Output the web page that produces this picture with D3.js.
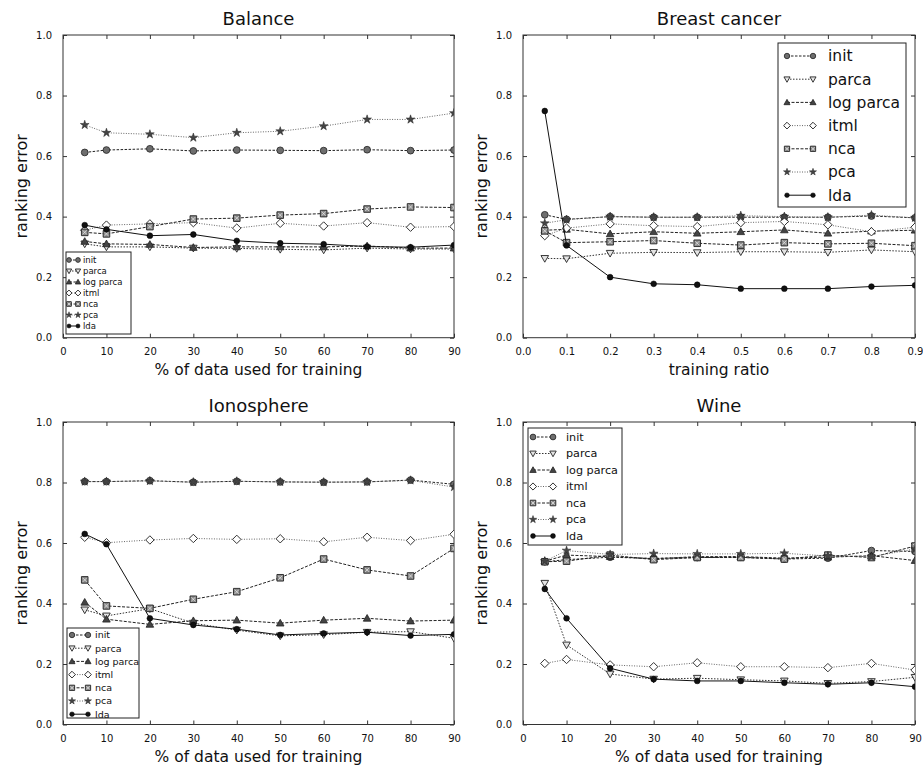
<!DOCTYPE html>
<html><head><meta charset="utf-8">
<script src="https://cdn.jsdelivr.net/npm/d3@7"></script>
<style>body{margin:0;background:#fff} text{font-family:"DejaVu Sans",sans-serif;fill:#111}</style>
</head><body><svg id="c" width="923" height="768"></svg>
<script>
// ---------------- data ----------------
const methods = ["init", "parca", "log parca", "itml", "nca", "pca", "lda"];
const xPercent = [5, 10, 20, 30, 40, 50, 60, 70, 80, 90];
const xRatio = [0.05, 0.1, 0.2, 0.3, 0.4, 0.5, 0.6, 0.7, 0.8, 0.9];
const xTicksPercent = [0, 10, 20, 30, 40, 50, 60, 70, 80, 90];
const xTicksRatio = [0, 0.1, 0.2, 0.3, 0.4, 0.5, 0.6, 0.7, 0.8, 0.9];
const yTicks = [0, 0.2, 0.4, 0.6, 0.8, 1.0];

// rows follow `methods`
const balanceErrors = [
  [0.612, 0.620, 0.624, 0.617, 0.620, 0.619, 0.618, 0.621, 0.618, 0.620],
  [0.310, 0.300, 0.300, 0.296, 0.295, 0.292, 0.290, 0.296, 0.293, 0.293],
  [0.318, 0.310, 0.308, 0.298, 0.300, 0.300, 0.300, 0.303, 0.296, 0.296],
  [0.355, 0.372, 0.376, 0.380, 0.362, 0.378, 0.369, 0.380, 0.365, 0.367],
  [0.348, 0.343, 0.367, 0.392, 0.395, 0.405, 0.410, 0.425, 0.432, 0.430],
  [0.703, 0.677, 0.672, 0.661, 0.677, 0.682, 0.699, 0.721, 0.721, 0.742],
  [0.372, 0.358, 0.337, 0.341, 0.320, 0.312, 0.309, 0.301, 0.299, 0.306]
];
const breastErrors = [
  [0.406, 0.391, 0.400, 0.398, 0.398, 0.398, 0.398, 0.398, 0.402, 0.396],
  [0.262, 0.261, 0.279, 0.282, 0.281, 0.284, 0.284, 0.282, 0.290, 0.284],
  [0.355, 0.358, 0.343, 0.350, 0.345, 0.350, 0.356, 0.345, 0.352, 0.355],
  [0.337, 0.362, 0.376, 0.370, 0.367, 0.380, 0.384, 0.373, 0.350, 0.365],
  [0.353, 0.314, 0.317, 0.321, 0.312, 0.306, 0.314, 0.310, 0.312, 0.304],
  [0.378, 0.390, 0.400, 0.398, 0.398, 0.403, 0.400, 0.398, 0.405, 0.396],
  [0.749, 0.305, 0.200, 0.178, 0.175, 0.162, 0.162, 0.162, 0.169, 0.173]
];
const ionosphereErrors = [
  [0.803, 0.803, 0.806, 0.801, 0.804, 0.802, 0.801, 0.802, 0.808, 0.794],
  [0.379, 0.359, 0.383, 0.335, 0.312, 0.293, 0.297, 0.305, 0.307, 0.285],
  [0.404, 0.348, 0.331, 0.343, 0.345, 0.335, 0.345, 0.351, 0.342, 0.345],
  [0.619, 0.601, 0.610, 0.615, 0.612, 0.614, 0.604, 0.619, 0.608, 0.629],
  [0.478, 0.392, 0.384, 0.414, 0.439, 0.485, 0.547, 0.511, 0.491, 0.582],
  [0.803, 0.803, 0.805, 0.801, 0.804, 0.802, 0.801, 0.802, 0.807, 0.785],
  [0.630, 0.596, 0.351, 0.329, 0.315, 0.296, 0.301, 0.305, 0.294, 0.298]
];
const wineErrors = [
  [0.538, 0.545, 0.553, 0.549, 0.552, 0.553, 0.547, 0.550, 0.575, 0.572],
  [0.467, 0.263, 0.167, 0.150, 0.153, 0.148, 0.144, 0.136, 0.142, 0.156],
  [0.540, 0.560, 0.555, 0.548, 0.555, 0.555, 0.550, 0.553, 0.558, 0.542],
  [0.202, 0.215, 0.197, 0.191, 0.204, 0.191, 0.191, 0.188, 0.202, 0.180],
  [0.538, 0.540, 0.560, 0.545, 0.552, 0.552, 0.547, 0.560, 0.552, 0.590],
  [0.540, 0.575, 0.562, 0.565, 0.564, 0.564, 0.566, 0.557, 0.555, 0.580],
  [0.448, 0.351, 0.186, 0.150, 0.144, 0.144, 0.138, 0.133, 0.138, 0.125]
];

// ---------------- styles ----------------
const dashes = {"init": "2.5,1.5", "parca": "1.5,1.5", "log parca": "3,1.5", "itml": "1,1.5", "nca": "3,1.5", "pca": "1,1.5", "lda": null};
const lineColors = {"init": "#222", "parca": "#333", "log parca": "#222", "itml": "#666", "nca": "#222", "pca": "#666", "lda": "#111"};

const svg = d3.select("#c");

function drawMarker(g, m, x, y, k) {
  const t = `translate(${x},${y})`;
  if (m === "init") {
    g.append("circle").attr("cx", x).attr("cy", y).attr("r", 3.4 * k).attr("fill", "#6e6e6e").attr("stroke", "#222").attr("stroke-width", 0.8);
  } else if (m === "lda") {
    g.append("circle").attr("cx", x).attr("cy", y).attr("r", 2.9 * k).attr("fill", "#111").attr("stroke", "#000").attr("stroke-width", 0.5);
  } else if (m === "parca") {
    const s = 3.8 * k;
    g.append("path").attr("transform", t).attr("d", `M${-s},${-s * 0.75}L${s},${-s * 0.75}L0,${s}Z`).attr("fill", "#e4e4e4").attr("stroke", "#222").attr("stroke-width", 0.9);
  } else if (m === "log parca") {
    const s = 3.8 * k;
    g.append("path").attr("transform", t).attr("d", `M${-s},${s * 0.75}L${s},${s * 0.75}L0,${-s}Z`).attr("fill", "#444").attr("stroke", "#222").attr("stroke-width", 0.8);
  } else if (m === "itml") {
    const s = 4.2 * k;
    g.append("path").attr("transform", t).attr("d", `M0,${-s}L${s},0L0,${s}L${-s},0Z`).attr("fill", "#fff").attr("stroke", "#333").attr("stroke-width", 1);
  } else if (m === "nca") {
    const s = 3.3 * k;
    g.append("path").attr("transform", t).attr("d", `M${-s},${-s}H${s}V${s}H${-s}Z`).attr("fill", "#8c8c8c").attr("stroke", "#222").attr("stroke-width", 0.9);
    g.append("path").attr("transform", t).attr("d", `M${-s * 0.6},${-s * 0.6}L${s * 0.6},${s * 0.6}M${s * 0.6},${-s * 0.6}L${-s * 0.6},${s * 0.6}`).attr("stroke", "#eee").attr("stroke-width", 0.7);
  } else if (m === "pca") {
    g.append("path").attr("transform", t).attr("d", d3.symbol().type(d3.symbolStar).size(24 * k * k)()).attr("fill", "#444").attr("stroke", "#222").attr("stroke-width", 0.5);
  }
}

const panels = [
  {title: "Balance", data: balanceErrors, xs: xPercent, xTicks: xTicksPercent, xDomain: [0, 90], fmt: d3.format("d"), xLabel: "% of data used for training",
   left: 63, right: 454, top: 35, bottom: 337.7,
   legend: {x: 66, y: 252, w: 65, h: 82, row0: 260, rowH: 11, m1: 69, m2: 78, tx: 83, fs: 8.5, k: 0.7}},
  {title: "Breast cancer", data: breastErrors, xs: xRatio, xTicks: xTicksRatio, xDomain: [0, 0.9], fmt: d3.format(".1f"), xLabel: "training ratio",
   left: 523, right: 915, top: 35, bottom: 337.7,
   legend: {x: 778, y: 43, w: 128, h: 164, row0: 56, rowH: 23.2, m1: 787, m2: 813, tx: 828, fs: 15.5, k: 0.8}},
  {title: "Ionosphere", data: ionosphereErrors, xs: xPercent, xTicks: xTicksPercent, xDomain: [0, 90], fmt: d3.format("d"), xLabel: "% of data used for training",
   left: 63, right: 454, top: 422, bottom: 724.5,
   legend: {x: 67, y: 628, w: 72, h: 90, row0: 635, rowH: 13.2, m1: 72, m2: 88, tx: 95, fs: 9.5, k: 0.8}},
  {title: "Wine", data: wineErrors, xs: xPercent, xTicks: xTicksPercent, xDomain: [0, 90], fmt: d3.format("d"), xLabel: "% of data used for training",
   left: 523, right: 915, top: 422, bottom: 724.5,
   legend: {x: 528, y: 428, w: 94, h: 117, row0: 437, rowH: 16.5, m1: 533, m2: 553, tx: 566, fs: 11.2, k: 0.85}}
];

panels.forEach((p, pi) => {
  const x = d3.scaleLinear().domain(p.xDomain).range([p.left, p.right]);
  const y = d3.scaleLinear().domain([0, 1]).range([p.bottom, p.top]);
  const g = svg.append("g");

  g.append("text").attr("x", (p.left + p.right) / 2).attr("y", p.top - 10).attr("text-anchor", "middle").attr("font-size", 18).text(p.title);

  const styleAxis = sel => { sel.select(".domain").remove(); sel.selectAll(".tick line").attr("stroke", "#333"); sel.selectAll("text").attr("font-size", 10).attr("fill", "#111").attr("font-family", "DejaVu Sans"); };
  g.append("g").attr("transform", `translate(0,${p.bottom})`)
    .call(d3.axisBottom(x).tickValues(p.xTicks).tickFormat(p.fmt).tickSize(-4).tickSizeOuter(0).tickPadding(10.5)).call(styleAxis);
  g.append("g").attr("transform", `translate(0,${p.top})`)
    .call(d3.axisTop(x).tickValues(p.xTicks).tickFormat("").tickSize(-4).tickSizeOuter(0)).call(styleAxis);
  g.append("g").attr("transform", `translate(${p.left},0)`)
    .call(d3.axisLeft(y).tickValues(yTicks).tickFormat(d3.format(".1f")).tickSize(-4).tickSizeOuter(0).tickPadding(11)).call(styleAxis);
  g.append("g").attr("transform", `translate(${p.right},0)`)
    .call(d3.axisRight(y).tickValues(yTicks).tickFormat("").tickSize(-4).tickSizeOuter(0)).call(styleAxis);

  g.append("rect").attr("x", p.left).attr("y", p.top).attr("width", p.right - p.left).attr("height", p.bottom - p.top)
    .attr("fill", "none").attr("stroke", "#333").attr("stroke-width", 1);

  g.append("text").attr("x", (p.left + p.right) / 2).attr("y", p.bottom + 37).attr("text-anchor", "middle").attr("font-size", 15.5).text(p.xLabel);
  g.append("text").attr("transform", `translate(${p.left - 36.5},${(p.top + p.bottom) / 2}) rotate(-90)`).attr("text-anchor", "middle").attr("font-size", 16).text("ranking error");

  const cid = "clip" + pi;
  svg.append("clipPath").attr("id", cid).append("rect").attr("x", p.left).attr("y", p.top).attr("width", p.right - p.left).attr("height", p.bottom - p.top);
  const plot = g.append("g").attr("clip-path", `url(#${cid})`);

  const line = d3.line().x(d => x(d[0])).y(d => y(d[1]));
  methods.forEach((m, mi) => {
    const pts = p.xs.map((xv, i) => [xv, p.data[mi][i]]);
    plot.append("path").attr("d", line(pts)).attr("fill", "none").attr("stroke", lineColors[m]).attr("stroke-width", 1)
      .attr("stroke-dasharray", dashes[m]);
    const mg = plot.append("g");
    pts.forEach(d => drawMarker(mg, m, x(d[0]), y(d[1]), 1));
  });

  const L = p.legend;
  const lg = g.append("g");
  lg.append("rect").attr("x", L.x).attr("y", L.y).attr("width", L.w).attr("height", L.h).attr("fill", "#fff").attr("stroke", "#222").attr("stroke-width", 1);
  methods.forEach((m, mi) => {
    const yy = L.row0 + mi * L.rowH;
    lg.append("line").attr("x1", L.m1).attr("x2", L.m2).attr("y1", yy).attr("y2", yy).attr("stroke", lineColors[m]).attr("stroke-width", 1).attr("stroke-dasharray", dashes[m]);
    drawMarker(lg, m, L.m1, yy, L.k);
    drawMarker(lg, m, L.m2, yy, L.k);
    lg.append("text").attr("x", L.tx).attr("y", yy).attr("dy", "0.35em").attr("font-size", L.fs).text(m);
  });
});
</script>
</body></html>
